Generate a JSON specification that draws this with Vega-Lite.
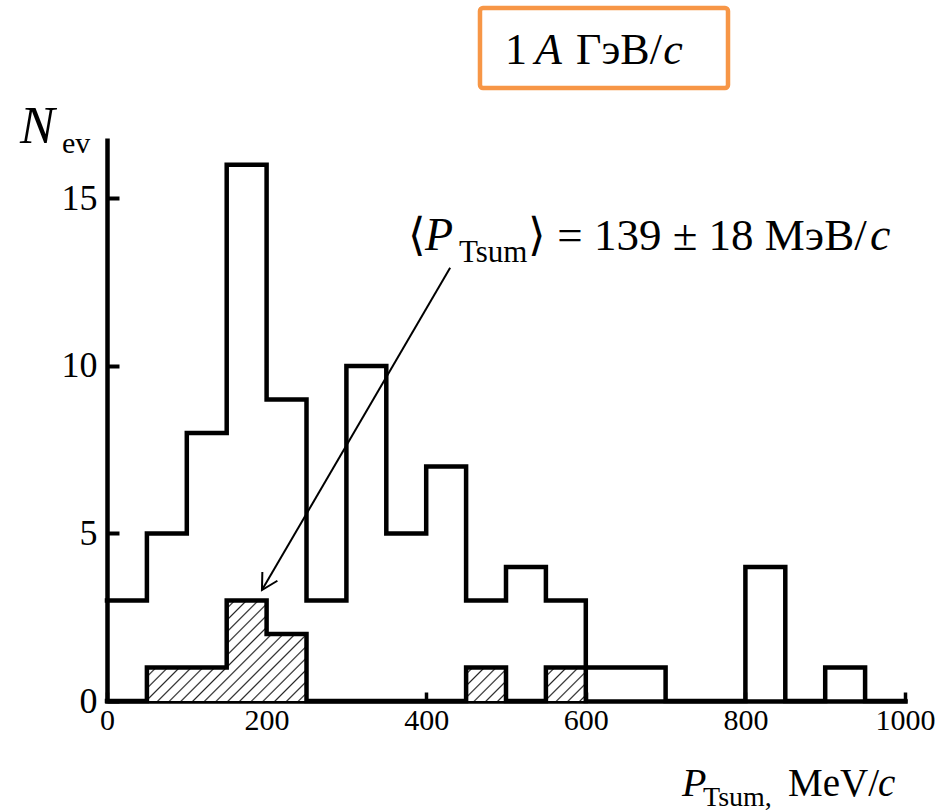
{
  "$schema": "https://vega.github.io/schema/vega-lite/v6.json",
  "autosize": {"type": "none"},
  "padding": {"left": 107, "top": 138, "right": 42, "bottom": 111},
  "width": 798,
  "height": 563,
  "background": "white",
  "config": {
    "view": {"stroke": null},
    "font": "Liberation Serif",
    "text": {"font": "Liberation Serif", "color": "black", "align": "left", "baseline": "alphabetic"}
  },
  "datasets": {
    "all_events": [
      {"lo": 0, "n": 3}, {"lo": 50, "n": 5}, {"lo": 100, "n": 8}, {"lo": 150, "n": 16},
      {"lo": 200, "n": 9}, {"lo": 250, "n": 3}, {"lo": 300, "n": 10}, {"lo": 350, "n": 5},
      {"lo": 400, "n": 7}, {"lo": 450, "n": 3}, {"lo": 500, "n": 4}, {"lo": 550, "n": 3},
      {"lo": 600, "n": 1}, {"lo": 650, "n": 1}, {"lo": 700, "n": 0}, {"lo": 750, "n": 0},
      {"lo": 800, "n": 4}, {"lo": 850, "n": 0}, {"lo": 900, "n": 1}, {"lo": 950, "n": 0},
      {"lo": 1000, "n": 0}
    ],
    "selected": [
      {"lo": 0, "n": 0}, {"lo": 50, "n": 1}, {"lo": 100, "n": 1}, {"lo": 150, "n": 3},
      {"lo": 200, "n": 2}, {"lo": 250, "n": 0}, {"lo": 300, "n": 0}, {"lo": 350, "n": 0},
      {"lo": 400, "n": 0}, {"lo": 450, "n": 1}, {"lo": 500, "n": 0}, {"lo": 550, "n": 1},
      {"lo": 600, "n": 0}
    ]
  },
  "encoding": {
    "x": {
      "type": "quantitative",
      "scale": {"domain": [0, 1000], "nice": false, "zero": false},
      "axis": {
        "values": [0, 200, 400, 600, 800, 1000],
        "format": "d",
        "title": null, "grid": false,
        "domainColor": "black", "domainWidth": 4.5, "domainCap": "square",
        "tickColor": "black", "tickWidth": 3.5, "tickSize": -9,
        "labelFont": "Liberation Serif", "labelFontSize": 30, "labelColor": "black",
        "labelPadding": 13, "labelFlush": false, "labelOverlap": false
      }
    },
    "y": {
      "type": "quantitative",
      "scale": {"domain": [0, 16.8], "nice": false},
      "axis": {
        "values": [0, 5, 10, 15],
        "title": null, "grid": false,
        "domainColor": "black", "domainWidth": 4.5,
        "tickColor": "black", "tickWidth": 4, "tickSize": -12,
        "labelFont": "Liberation Serif", "labelFontSize": 36, "labelColor": "black",
        "labelPadding": 22, "labelFlush": false, "labelOverlap": false
      }
    }
  },
  "layer": [
    {
      "data": {"name": "selected"},
      "transform": [{"filter": "datum.lo >= 50"}],
      "mark": {
        "type": "area", "interpolate": "step-after", "strokeWidth": 0,
        "fill": {
          "gradient": "linear", "x1": 0, "y1": 0, "x2": 1.1678, "y2": 0.2674,
          "stops": [
            {"offset": 0, "color": "#ffffff"},
            {"offset": 0.0948, "color": "#ffffff"}, {"offset": 0.0978, "color": "#222222"}, {"offset": 0.1008, "color": "#ffffff"},
            {"offset": 0.1166, "color": "#ffffff"}, {"offset": 0.1196, "color": "#222222"}, {"offset": 0.1226, "color": "#ffffff"},
            {"offset": 0.1383, "color": "#ffffff"}, {"offset": 0.1413, "color": "#222222"}, {"offset": 0.1443, "color": "#ffffff"},
            {"offset": 0.1600, "color": "#ffffff"}, {"offset": 0.1630, "color": "#222222"}, {"offset": 0.1660, "color": "#ffffff"},
            {"offset": 0.1818, "color": "#ffffff"}, {"offset": 0.1848, "color": "#222222"}, {"offset": 0.1878, "color": "#ffffff"},
            {"offset": 0.2035, "color": "#ffffff"}, {"offset": 0.2065, "color": "#222222"}, {"offset": 0.2095, "color": "#ffffff"},
            {"offset": 0.2253, "color": "#ffffff"}, {"offset": 0.2283, "color": "#222222"}, {"offset": 0.2313, "color": "#ffffff"},
            {"offset": 0.2470, "color": "#ffffff"}, {"offset": 0.2500, "color": "#222222"}, {"offset": 0.2530, "color": "#ffffff"},
            {"offset": 0.2687, "color": "#ffffff"}, {"offset": 0.2717, "color": "#222222"}, {"offset": 0.2747, "color": "#ffffff"},
            {"offset": 0.2905, "color": "#ffffff"}, {"offset": 0.2935, "color": "#222222"}, {"offset": 0.2965, "color": "#ffffff"},
            {"offset": 0.3122, "color": "#ffffff"}, {"offset": 0.3152, "color": "#222222"}, {"offset": 0.3182, "color": "#ffffff"},
            {"offset": 0.3340, "color": "#ffffff"}, {"offset": 0.3370, "color": "#222222"}, {"offset": 0.3400, "color": "#ffffff"},
            {"offset": 0.3557, "color": "#ffffff"}, {"offset": 0.3587, "color": "#222222"}, {"offset": 0.3617, "color": "#ffffff"},
            {"offset": 0.3774, "color": "#ffffff"}, {"offset": 0.3804, "color": "#222222"}, {"offset": 0.3834, "color": "#ffffff"},
            {"offset": 0.3992, "color": "#ffffff"}, {"offset": 0.4022, "color": "#222222"}, {"offset": 0.4052, "color": "#ffffff"},
            {"offset": 0.4209, "color": "#ffffff"}, {"offset": 0.4239, "color": "#222222"}, {"offset": 0.4269, "color": "#ffffff"},
            {"offset": 0.4427, "color": "#ffffff"}, {"offset": 0.4457, "color": "#222222"}, {"offset": 0.4487, "color": "#ffffff"},
            {"offset": 0.4644, "color": "#ffffff"}, {"offset": 0.4674, "color": "#222222"}, {"offset": 0.4704, "color": "#ffffff"},
            {"offset": 0.4861, "color": "#ffffff"}, {"offset": 0.4891, "color": "#222222"}, {"offset": 0.4921, "color": "#ffffff"},
            {"offset": 0.5079, "color": "#ffffff"}, {"offset": 0.5109, "color": "#222222"}, {"offset": 0.5139, "color": "#ffffff"},
            {"offset": 0.5296, "color": "#ffffff"}, {"offset": 0.5326, "color": "#222222"}, {"offset": 0.5356, "color": "#ffffff"},
            {"offset": 0.5514, "color": "#ffffff"}, {"offset": 0.5544, "color": "#222222"}, {"offset": 0.5574, "color": "#ffffff"},
            {"offset": 0.5731, "color": "#ffffff"}, {"offset": 0.5761, "color": "#222222"}, {"offset": 0.5791, "color": "#ffffff"},
            {"offset": 0.5948, "color": "#ffffff"}, {"offset": 0.5978, "color": "#222222"}, {"offset": 0.6008, "color": "#ffffff"},
            {"offset": 0.6166, "color": "#ffffff"}, {"offset": 0.6196, "color": "#222222"}, {"offset": 0.6226, "color": "#ffffff"},
            {"offset": 0.6383, "color": "#ffffff"}, {"offset": 0.6413, "color": "#222222"}, {"offset": 0.6443, "color": "#ffffff"},
            {"offset": 0.6600, "color": "#ffffff"}, {"offset": 0.6630, "color": "#222222"}, {"offset": 0.6660, "color": "#ffffff"},
            {"offset": 0.6818, "color": "#ffffff"}, {"offset": 0.6848, "color": "#222222"}, {"offset": 0.6878, "color": "#ffffff"},
            {"offset": 0.7035, "color": "#ffffff"}, {"offset": 0.7065, "color": "#222222"}, {"offset": 0.7095, "color": "#ffffff"},
            {"offset": 0.7253, "color": "#ffffff"}, {"offset": 0.7283, "color": "#222222"}, {"offset": 0.7313, "color": "#ffffff"},
            {"offset": 0.7470, "color": "#ffffff"}, {"offset": 0.7500, "color": "#222222"}, {"offset": 0.7530, "color": "#ffffff"},
            {"offset": 0.7687, "color": "#ffffff"}, {"offset": 0.7717, "color": "#222222"}, {"offset": 0.7747, "color": "#ffffff"},
            {"offset": 0.7905, "color": "#ffffff"}, {"offset": 0.7935, "color": "#222222"}, {"offset": 0.7965, "color": "#ffffff"},
            {"offset": 0.8122, "color": "#ffffff"}, {"offset": 0.8152, "color": "#222222"}, {"offset": 0.8182, "color": "#ffffff"},
            {"offset": 0.8340, "color": "#ffffff"}, {"offset": 0.8370, "color": "#222222"}, {"offset": 0.8400, "color": "#ffffff"},
            {"offset": 0.8557, "color": "#ffffff"}, {"offset": 0.8587, "color": "#222222"}, {"offset": 0.8617, "color": "#ffffff"},
            {"offset": 0.8774, "color": "#ffffff"}, {"offset": 0.8804, "color": "#222222"}, {"offset": 0.8834, "color": "#ffffff"},
            {"offset": 0.8992, "color": "#ffffff"}, {"offset": 0.9022, "color": "#222222"}, {"offset": 0.9052, "color": "#ffffff"},
            {"offset": 0.9209, "color": "#ffffff"}, {"offset": 0.9239, "color": "#222222"}, {"offset": 0.9269, "color": "#ffffff"},
            {"offset": 0.9427, "color": "#ffffff"}, {"offset": 0.9457, "color": "#222222"}, {"offset": 0.9487, "color": "#ffffff"},
            {"offset": 0.9644, "color": "#ffffff"}, {"offset": 0.9674, "color": "#222222"}, {"offset": 0.9704, "color": "#ffffff"},
            {"offset": 0.9861, "color": "#ffffff"}, {"offset": 0.9891, "color": "#222222"}, {"offset": 0.9921, "color": "#ffffff"},
            {"offset": 1, "color": "#ffffff"}
          ]
        }
      },
      "encoding": {"x": {"field": "lo"}, "y": {"field": "n"}}
    },
    {
      "data": {"name": "all_events"},
      "mark": {"type": "line", "interpolate": "step-after", "color": "black", "strokeWidth": 4.5, "strokeJoin": "miter", "strokeCap": "square"},
      "encoding": {"x": {"field": "lo"}, "y": {"field": "n"}}
    },
    {
      "data": {"name": "selected"},
      "mark": {"type": "line", "interpolate": "step-after", "color": "black", "strokeWidth": 4.5, "strokeJoin": "miter", "strokeCap": "square"},
      "encoding": {"x": {"field": "lo"}, "y": {"field": "n"}}
    },
    {
      "data": {"values": [{}]},
      "mark": {"type": "rule", "color": "black", "strokeWidth": 2},
      "encoding": {"x": {"datum": 430.0}, "y": {"datum": 12.93}, "x2": {"datum": 194.2}, "y2": {"datum": 3.31}}
    },
    {
      "data": {"values": [{}]},
      "mark": {"type": "point", "shape": "M -1 -0.55 L 0 0 L -1 0.55", "filled": false, "stroke": "black", "strokeWidth": 2, "size": 1000, "angle": 120, "opacity": 1},
      "encoding": {"x": {"datum": 194.2}, "y": {"datum": 3.31}}
    },
    {
      "data": {"values": [{}]},
      "mark": {"type": "rect", "fill": "white", "stroke": "#F79646", "strokeWidth": 4.5, "cornerRadius": 3},
      "encoding": {"x": {"datum": 467.4}, "x2": {"datum": 778.2}, "y": {"datum": 20.68}, "y2": {"datum": 18.29}}
    },
    {
      "data": {"values": [{}]},
      "mark": {"type": "text", "text": "1", "fontSize": 44},
      "encoding": {"x": {"datum": 498.7}, "y": {"datum": 19.01}}
    },
    {
      "data": {"values": [{}]},
      "mark": {"type": "text", "text": "A", "fontSize": 44, "fontStyle": "italic"},
      "encoding": {"x": {"datum": 536.3}, "y": {"datum": 19.01}}
    },
    {
      "data": {"values": [{}]},
      "mark": {"type": "text", "text": "ГэВ/", "fontSize": 44},
      "encoding": {"x": {"datum": 587.7}, "y": {"datum": 19.01}}
    },
    {
      "data": {"values": [{}]},
      "mark": {"type": "text", "text": "c", "fontSize": 44, "fontStyle": "italic"},
      "encoding": {"x": {"datum": 697.0}, "y": {"datum": 19.01}}
    },
    {
      "data": {"values": [{}]},
      "mark": {"type": "text", "text": "N", "fontSize": 52, "fontStyle": "italic"},
      "encoding": {"x": {"datum": -109.0}, "y": {"datum": 16.65}}
    },
    {
      "data": {"values": [{}]},
      "mark": {"type": "text", "text": "ev", "fontSize": 30},
      "encoding": {"x": {"datum": -56.4}, "y": {"datum": 16.35}}
    },
    {
      "data": {"values": [{}]},
      "mark": {"type": "text", "text": "⟨", "fontSize": 45},
      "encoding": {"x": {"datum": 377.2}, "y": {"datum": 13.46}}
    },
    {
      "data": {"values": [{}]},
      "mark": {"type": "text", "text": "P", "fontSize": 46, "fontStyle": "italic"},
      "encoding": {"x": {"datum": 398.5}, "y": {"datum": 13.46}}
    },
    {
      "data": {"values": [{}]},
      "mark": {"type": "text", "text": "Tsum", "fontSize": 31},
      "encoding": {"x": {"datum": 441.1}, "y": {"datum": 13.10}}
    },
    {
      "data": {"values": [{}]},
      "mark": {"type": "text", "text": "⟩ = 139 ± 18 МэВ/", "fontSize": 45},
      "encoding": {"x": {"datum": 527.6}, "y": {"datum": 13.46}}
    },
    {
      "data": {"values": [{}]},
      "mark": {"type": "text", "text": "c", "fontSize": 46, "fontStyle": "italic"},
      "encoding": {"x": {"datum": 956.1}, "y": {"datum": 13.46}}
    },
    {
      "data": {"values": [{}]},
      "mark": {"type": "text", "text": "P", "fontSize": 40, "fontStyle": "italic"},
      "encoding": {"x": {"datum": 720.4}, "y": {"datum": -2.835}}
    },
    {
      "data": {"values": [{}]},
      "mark": {"type": "text", "text": "Tsum,", "fontSize": 28},
      "encoding": {"x": {"datum": 746.9}, "y": {"datum": -3.133}}
    },
    {
      "data": {"values": [{}]},
      "mark": {"type": "text", "text": "MeV/", "fontSize": 39},
      "encoding": {"x": {"datum": 853.4}, "y": {"datum": -2.835}}
    },
    {
      "data": {"values": [{}]},
      "mark": {"type": "text", "text": "c", "fontSize": 39, "fontStyle": "italic"},
      "encoding": {"x": {"datum": 966.2}, "y": {"datum": -2.835}}
    }
  ]
}
